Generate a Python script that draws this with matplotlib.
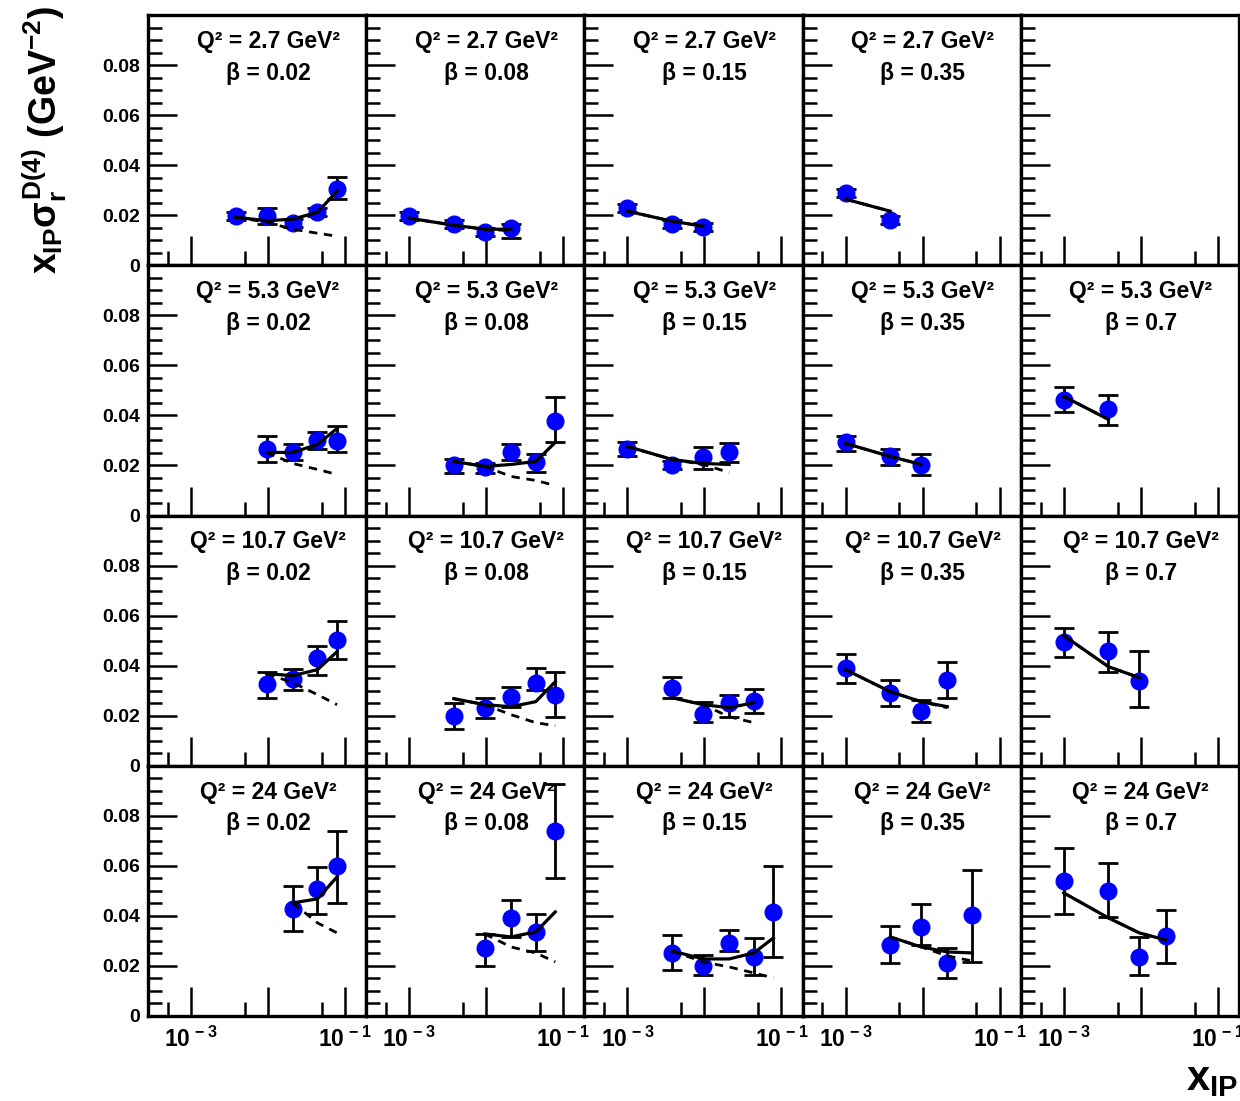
import matplotlib
matplotlib.use("Agg")
import matplotlib.pyplot as plt
from matplotlib.ticker import FixedLocator, NullFormatter, FixedFormatter, MultipleLocator
import numpy as np

plt.rcParams['font.family'] = ['Liberation Sans', 'DejaVu Sans']
plt.rcParams['font.weight'] = 'bold'
plt.rcParams['mathtext.fontset'] = 'custom'
plt.rcParams['mathtext.rm'] = 'Liberation Sans:bold'
plt.rcParams['mathtext.it'] = 'Liberation Sans:bold'
plt.rcParams['mathtext.bf'] = 'Liberation Sans:bold'
plt.rcParams['mathtext.sf'] = 'Liberation Sans:bold'

# Grid of kinematic bins: rows are Q^2, columns are beta
q2_labels = ["2.7", "5.3", "10.7", "24"]
beta_labels = ["0.02", "0.08", "0.15", "0.35", "0.7"]

# Per panel (row-major order), x_IP values of the measured points
xip = [
    [0.0038, 0.0096, 0.021, 0.044, 0.079],
    [0.001, 0.0038, 0.0096, 0.021],
    [0.001, 0.0038, 0.0096],
    [0.001, 0.0038],
    [],
    [0.0096, 0.021, 0.044, 0.079],
    [0.0038, 0.0096, 0.021, 0.044, 0.079],
    [0.001, 0.0038, 0.0096, 0.021],
    [0.001, 0.0038, 0.0096],
    [0.001, 0.0038],
    [0.0096, 0.021, 0.044, 0.079],
    [0.0038, 0.0096, 0.021, 0.044, 0.079],
    [0.0038, 0.0096, 0.021, 0.044],
    [0.001, 0.0038, 0.0096, 0.021],
    [0.001, 0.0038, 0.0096],
    [0.021, 0.044, 0.079],
    [0.0096, 0.021, 0.044, 0.079],
    [0.0038, 0.0096, 0.021, 0.044, 0.079],
    [0.0038, 0.0096, 0.021, 0.044],
    [0.001, 0.0038, 0.0096, 0.021],
]

# Measured x_IP * sigma_r^D(4)
sigma = [
    [0.0196, 0.0196, 0.0168, 0.0212, 0.0304],
    [0.0196, 0.0164, 0.0132, 0.0148],
    [0.0228, 0.0164, 0.0152],
    [0.0288, 0.0180],
    [],
    [0.0264, 0.0252, 0.0300, 0.0296],
    [0.0200, 0.0192, 0.0252, 0.0212, 0.0376],
    [0.0264, 0.0200, 0.0232, 0.0252],
    [0.0292, 0.0236, 0.0200],
    [0.0460, 0.0424],
    [0.0328, 0.0348, 0.0432, 0.0504],
    [0.0200, 0.0232, 0.0276, 0.0332, 0.0284],
    [0.0312, 0.0208, 0.0252, 0.0260],
    [0.0392, 0.0292, 0.0220, 0.0344],
    [0.0496, 0.0460, 0.0340],
    [0.0428, 0.0508, 0.0600],
    [0.0272, 0.0392, 0.0336, 0.0740],
    [0.0252, 0.0200, 0.0292, 0.0236, 0.0416],
    [0.0284, 0.0356, 0.0212, 0.0404],
    [0.0540, 0.0500, 0.0236, 0.0320],
]

# Upper and lower ends of the total error bars
sigma_hi = [
    [0.0212, 0.0228, 0.0184, 0.0228, 0.0352],
    [0.0212, 0.0180, 0.0148, 0.0164],
    [0.0244, 0.0180, 0.0168],
    [0.0304, 0.0196],
    [],
    [0.0316, 0.0284, 0.0332, 0.0356],
    [0.0224, 0.0210, 0.0284, 0.0244, 0.0472],
    [0.0292, 0.0216, 0.0272, 0.0288],
    [0.0316, 0.0264, 0.0244],
    [0.0512, 0.0480],
    [0.0376, 0.0388, 0.0480, 0.0580],
    [0.0252, 0.0272, 0.0316, 0.0392, 0.0376],
    [0.0356, 0.0256, 0.0284, 0.0308],
    [0.0448, 0.0344, 0.0264, 0.0416],
    [0.0552, 0.0536, 0.0460],
    [0.0520, 0.0596, 0.0740],
    [0.0328, 0.0464, 0.0408, 0.0928],
    [0.0324, 0.0244, 0.0344, 0.0312, 0.0600],
    [0.0360, 0.0448, 0.0272, 0.0584],
    [0.0672, 0.0612, 0.0316, 0.0424],
]
sigma_lo = [
    [0.0180, 0.0164, 0.0152, 0.0196, 0.0264],
    [0.0180, 0.0148, 0.0116, 0.0110],
    [0.0212, 0.0148, 0.0136],
    [0.0272, 0.0164],
    [],
    [0.0212, 0.0220, 0.0264, 0.0252],
    [0.0168, 0.0170, 0.0220, 0.0172, 0.0292],
    [0.0236, 0.0184, 0.0184, 0.0212],
    [0.0256, 0.0200, 0.0160],
    [0.0412, 0.0360],
    [0.0272, 0.0304, 0.0364, 0.0428],
    [0.0148, 0.0192, 0.0236, 0.0304, 0.0196],
    [0.0272, 0.0176, 0.0196, 0.0212],
    [0.0332, 0.0240, 0.0176, 0.0272],
    [0.0436, 0.0376, 0.0236],
    [0.0340, 0.0408, 0.0452],
    [0.0200, 0.0316, 0.0260, 0.0552],
    [0.0184, 0.0164, 0.0260, 0.0164, 0.0236],
    [0.0212, 0.0284, 0.0152, 0.0216],
    [0.0408, 0.0396, 0.0164, 0.0212],
]

# Fit: total (pomeron + reggeon) and pomeron only
fit_total = [
    [0.0192, 0.0178, 0.0184, 0.0212, 0.0296],
    [0.0188, 0.0160, 0.0144, 0.0144],
    [0.0216, 0.0176, 0.0156],
    [0.0264, 0.0216],
    [],
    [0.0252, 0.0252, 0.0284, 0.0348],
    [0.0216, 0.0196, 0.0204, 0.0216, 0.0292],
    [0.0276, 0.0224, 0.0208, 0.0204],
    [0.0288, 0.0236, 0.0204],
    [0.0476, 0.0384],
    [0.0368, 0.0360, 0.0384, 0.0456],
    [0.0268, 0.0244, 0.0236, 0.0256, 0.0336],
    [0.0272, 0.0244, 0.0232, 0.0252],
    [0.0384, 0.0296, 0.0256, 0.0236],
    [0.0520, 0.0396, 0.0352],
    [0.0452, 0.0468, 0.0556],
    [0.0328, 0.0316, 0.0336, 0.0416],
    [0.0260, 0.0228, 0.0228, 0.0252, 0.0312],
    [0.0316, 0.0276, 0.0256, 0.0252],
    [0.0492, 0.0392, 0.0332, 0.0304],
]
fit_pomeron = [
    [0.0192, 0.0172, 0.0144, 0.0128, 0.0116],
    [0.0188, 0.0160, 0.0144, 0.0138],
    [0.0216, 0.0176, 0.0156],
    [0.0264, 0.0216],
    [],
    [0.0252, 0.0208, 0.0184, 0.0164],
    [0.0216, 0.0196, 0.0156, 0.0140, 0.0120],
    [0.0276, 0.0224, 0.0204, 0.0172],
    [0.0288, 0.0236, 0.0204],
    [0.0476, 0.0384],
    [0.0368, 0.0332, 0.0284, 0.0244],
    [0.0268, 0.0244, 0.0204, 0.0172, 0.0160],
    [0.0272, 0.0244, 0.0196, 0.0172],
    [0.0384, 0.0296, 0.0256, 0.0232],
    [0.0520, 0.0396, 0.0352],
    [0.0452, 0.0372, 0.0332],
    [0.0328, 0.0276, 0.0252, 0.0216],
    [0.0260, 0.0216, 0.0196, 0.0172, 0.0152],
    [0.0316, 0.0276, 0.0240, 0.0220],
    [0.0492, 0.0392, 0.0332, 0.0304],
]

W, H = 1240, 1101
fig = plt.figure(figsize=(W / 100, H / 100), dpi=100)
gs = fig.add_gridspec(4, 5, left=148 / W, right=1239 / W, top=1 - 15 / H,
                      bottom=1 - 1016 / H, wspace=0, hspace=0)

xlo, xhi = 10 ** -3.558, 10 ** -0.724
nrows, ncols = 4, 5

for r in range(nrows):
    for c in range(ncols):
        k = r * ncols + c
        ax = fig.add_subplot(gs[r, c])
        ax.set_xscale('log')
        ax.set_xlim(xlo, xhi)
        ax.set_ylim(0, 0.1)
        for s in ax.spines.values():
            s.set_linewidth(2.4)

        ax.xaxis.set_major_locator(FixedLocator([1e-3, 1e-2, 1e-1]))
        ax.xaxis.set_minor_locator(FixedLocator([5e-4, 5e-3, 5e-2]))
        ax.xaxis.set_minor_formatter(NullFormatter())
        ax.yaxis.set_major_locator(FixedLocator([0, 0.02, 0.04, 0.06, 0.08]))
        ax.yaxis.set_minor_locator(MultipleLocator(0.005))
        ax.tick_params(which='both', direction='in', top=False, right=False,
                       width=1.8, color='black')
        ax.tick_params(which='major', length=21)
        ax.tick_params(which='minor', length=10)

        if r == nrows - 1:
            ax.xaxis.set_major_formatter(
                FixedFormatter([r'$10^{\,-3}$', '', r'$10^{\,-1}$']))
            ax.tick_params(axis='x', labelsize=16.5, pad=8)
        else:
            ax.xaxis.set_major_formatter(NullFormatter())
        if c == 0:
            ax.yaxis.set_major_formatter(
                FixedFormatter(['0', '0.02', '0.04', '0.06', '0.08']))
            ax.tick_params(axis='y', labelsize=14, pad=6)
        else:
            ax.yaxis.set_major_formatter(NullFormatter())

        if len(xip[k]) == 0:
            continue

        x = np.array(xip[k])
        y = np.array(sigma[k])
        hi = np.array(sigma_hi[k])
        lo = np.array(sigma_lo[k])
        ax.errorbar(x, y, yerr=[y - lo, hi - y], fmt='none', ecolor='black',
                    elinewidth=2.0, capsize=7, capthick=2.0, zorder=2)
        ax.plot(x, y, 'o', color='#0000ff', ms=12, mec='#0000ff', zorder=3)
        ax.plot(x, fit_pomeron[k], color='black', lw=2.0,
                dashes=(3, 2.4), zorder=4)
        ax.plot(x, fit_total[k], color='black', lw=2.3, zorder=5)

        ax.text(0.55, 0.895, f"Q² = {q2_labels[r]} GeV²", transform=ax.transAxes,
                ha='center', va='center', fontsize=16.5, fontweight='bold')
        ax.text(0.55, 0.768, f"β = {beta_labels[c]}", transform=ax.transAxes,
                ha='center', va='center', fontsize=16.5, fontweight='bold')

fig.text(45 / W, 1 - 6 / H, r'$x_{IP}σ_r^{D(4)}$ (GeV$^{-2}$)', rotation=90,
         ha='center', va='top', fontsize=27, fontweight='bold')
fig.text(1238 / W, 1 - 1090 / H, r'$x_{IP}$', ha='right', va='baseline',
         fontsize=30, fontweight='bold')

fig.savefig('out.png', dpi=100)
